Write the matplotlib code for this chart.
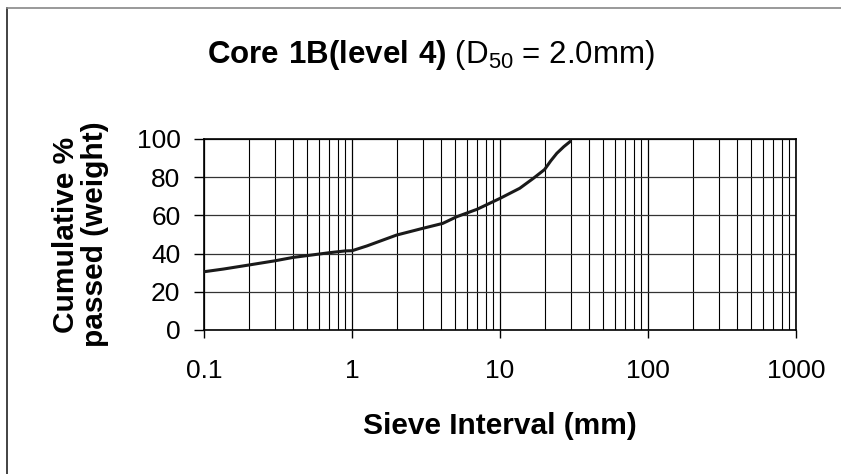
import matplotlib
matplotlib.use("Agg")
import matplotlib.pyplot as plt
import matplotlib.ticker as ticker
from matplotlib.lines import Line2D

plt.rcParams['font.family'] = ['Liberation Sans', 'DejaVu Sans']
plt.rcParams['mathtext.fontset'] = 'custom'
plt.rcParams['mathtext.rm'] = 'Liberation Sans'
plt.rcParams['mathtext.bf'] = 'Liberation Sans:bold'

# grain size curve
sieve_mm = [0.1, 0.135, 0.2, 0.3, 0.4, 0.71, 0.9, 1.0, 1.26, 2.0, 3.0, 4.1, 5.1, 7.0,
            10.0, 13.6, 16.8, 20.0, 22.0, 24.2, 27.0, 29.7]
passed = [30.5, 31.9, 34.0, 36.2, 38.0, 40.5, 41.4, 41.5, 44.0, 49.7, 53.2, 55.8, 59.3, 63.2,
          68.9, 74.2, 79.4, 84.0, 88.5, 92.5, 96.0, 98.6]

x_ticks = [0.1, 1, 10, 100, 1000]
x_labels = ['0.1', '1', '10', '100', '1000']
y_ticks = [0, 20, 40, 60, 80, 100]

fig = plt.figure(figsize=(8.41, 4.74), dpi=100)
ax = fig.add_axes([0.2426, 0.3038, 0.7039, 0.403])

ax.plot(sieve_mm, passed, color='#1a1a1a', linewidth=2.2, zorder=3)

ax.set_xscale('log')
ax.set_xlim(0.1, 1000)
ax.set_ylim(0, 100)
ax.set_xticks(x_ticks)
ax.set_xticklabels(x_labels)
ax.set_yticks(y_ticks)
ax.xaxis.set_minor_locator(ticker.LogLocator(base=10, subs=range(2, 10)))
ax.xaxis.set_minor_formatter(ticker.NullFormatter())

ax.grid(True, which='major', axis='x', color='black', linewidth=0.9)
ax.grid(True, which='minor', axis='x', color='black', linewidth=0.8)
ax.grid(True, which='major', axis='y', color='#333333', linewidth=0.9)

ax.tick_params(axis='x', which='major', direction='out', length=6, width=1,
               labelsize=19, pad=15)
ax.tick_params(axis='x', which='minor', length=0)
ax.tick_params(axis='y', direction='out', length=7, width=1, labelsize=19, pad=10)
for s in ax.spines.values():
    s.set_linewidth(1.2)
    s.set_color('black')

ax.set_xlabel('Sieve Interval (mm)', fontsize=21.5, fontweight='bold', labelpad=21)
ax.set_ylabel('Cumulative %\npassed (weight)', fontsize=21.5, fontweight='bold',
              labelpad=20, linespacing=1.05)

fig.text(0.512, 0.885, r'$\mathbf{Core\ 1B(level\ 4)}$ (D$_{50}$ = 2.0mm)',
         ha='center', va='center', fontsize=22.5)

# frame lines on the left and top of the picture
fig.add_artist(Line2D([0.008, 0.008], [0.0, 0.983], transform=fig.transFigure,
                      color='#222222', linewidth=1.2))
fig.add_artist(Line2D([0.008, 1.0], [0.983, 0.983], transform=fig.transFigure,
                      color='#888888', linewidth=1.2))

fig.savefig('out.png', dpi=100)
